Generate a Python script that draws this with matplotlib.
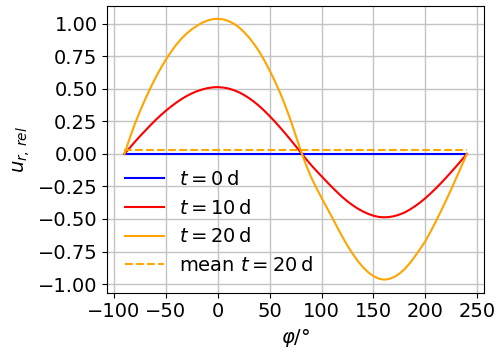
import numpy as np
import matplotlib
matplotlib.use("Agg")
import matplotlib.pyplot as plt

# angle positions (degrees), every 5 degrees from -90 to 240
phi = list(range(-90, 245, 5))

# relative radial displacement at t = 0 d
u_t0 = [0.0] * len(phi)

# t = 10 d
u_t10 = [0.000, 0.045, 0.092, 0.136, 0.178, 0.220, 0.260, 0.297, 0.332, 0.364,
         0.394, 0.421, 0.445, 0.465, 0.482, 0.495, 0.505, 0.511, 0.513, 0.510,
         0.503, 0.491, 0.475, 0.454, 0.429, 0.400, 0.367, 0.330, 0.290, 0.248,
         0.203, 0.157, 0.109, 0.060, 0.010, -0.039, -0.086, -0.130, -0.172, -0.214,
         -0.255, -0.294, -0.332, -0.365, -0.395, -0.421, -0.443, -0.461, -0.475,
         -0.484, -0.487, -0.485, -0.478, -0.466, -0.450, -0.428, -0.402, -0.373,
         -0.340, -0.304, -0.266, -0.225, -0.182, -0.138, -0.093, -0.047, 0.000]

# t = 20 d
u_t20 = [0.000, 0.118, 0.230, 0.328, 0.420, 0.505, 0.585, 0.658, 0.725, 0.785,
         0.840, 0.886, 0.925, 0.958, 0.985, 1.008, 1.025, 1.035, 1.038, 1.034,
         1.022, 1.002, 0.975, 0.938, 0.895, 0.843, 0.785, 0.716, 0.640, 0.558,
         0.470, 0.370, 0.262, 0.143, 0.025, -0.085, -0.180, -0.262, -0.338, -0.412,
         -0.486, -0.562, -0.636, -0.706, -0.768, -0.824, -0.872, -0.910, -0.939,
         -0.958, -0.966, -0.961, -0.946, -0.920, -0.885, -0.840, -0.787, -0.730,
         -0.670, -0.598, -0.520, -0.440, -0.356, -0.270, -0.181, -0.091, 0.000]

# mean of the t = 20 d curve
u_mean20 = 0.028

plt.rcParams['font.size'] = 14

fig = plt.figure(figsize=(5, 3.6), dpi=100)
ax = fig.add_axes([0.2146, 0.187, 0.7534, 0.797])

ax.plot(phi, u_t0, color='blue', label=r'$t=0\,\mathrm{d}$')
ax.plot(phi, u_t10, color='red', label=r'$t=10\,\mathrm{d}$')
ax.plot(phi, u_t20, color='orange', label=r'$t=20\,\mathrm{d}$')
ax.plot([phi[0], phi[-1]], [u_mean20, u_mean20], color='orange', linestyle='--',
        label=r'mean $t=20\,\mathrm{d}$')

ax.set_xticks([-100, -50, 0, 50, 100, 150, 200, 250])
ax.set_yticks([-1.0, -0.75, -0.5, -0.25, 0.0, 0.25, 0.5, 0.75, 1.0])
ax.grid(True, color='#c4c4c4', linewidth=1.0)
ax.set_axisbelow(True)

ax.set_xlabel(r'$\varphi/$°')
ax.set_ylabel(r'$u_{r,\,rel}$')
ax.legend(loc='lower left', frameon=False)

fig.savefig('out.png', dpi=100)
